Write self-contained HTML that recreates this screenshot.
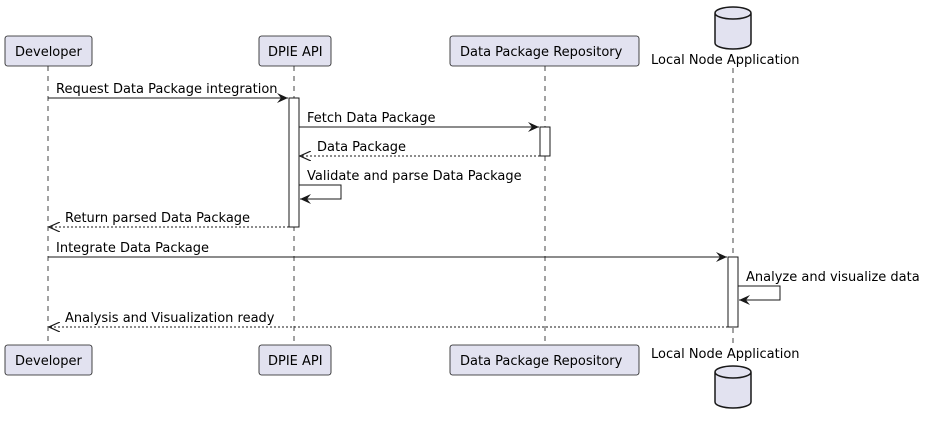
<!DOCTYPE html>
<html><head><meta charset="utf-8"><style>html,body{margin:0;padding:0;background:#fff}svg{display:block}text{font-family:"DejaVu Sans","Liberation Sans",sans-serif;font-size:13px;fill:#000}</style></head><body>
<svg width="925" height="423" viewBox="0 0 925 423" xmlns="http://www.w3.org/2000/svg">
<defs>
<marker id="a" markerWidth="12" markerHeight="10" refX="11" refY="5" orient="auto" markerUnits="userSpaceOnUse"><path d="M0,0 L11,5 L0,10 L4,5 Z" fill="#181818"/></marker>
<marker id="o" markerWidth="12" markerHeight="10" refX="11" refY="5" orient="auto" markerUnits="userSpaceOnUse"><path d="M0,0 L11,5 L0,10" fill="none" stroke="#181818" stroke-width="1.2"/></marker>
</defs>
<g stroke="#181818" stroke-width="0.8" stroke-dasharray="5,5">
<line x1="48" y1="66" x2="48" y2="345"/><line x1="294" y1="66" x2="294" y2="345"/><line x1="545" y1="66" x2="545" y2="345"/><line x1="733" y1="68" x2="733" y2="345"/>
</g>
<g fill="#E2E2F0" stroke="#181818" stroke-width="0.8">
<rect x="5" y="36" width="87" height="30" rx="2.5"/><rect x="259" y="36" width="72" height="30" rx="2.5"/><rect x="450" y="36" width="189" height="30" rx="2.5"/>
<rect x="5" y="345" width="87" height="30" rx="2.5"/><rect x="259" y="345" width="72" height="30" rx="2.5"/><rect x="450" y="345" width="189" height="30" rx="2.5"/>
</g>
<g fill="#E2E2F0" stroke="#181818" stroke-width="1.5">
<path d="M715,13 L715,43 A18,6 0 0 0 751,43 L751,13 A18,6 0 0 0 715,13 A18,6 0 0 0 751,13"/>
<path d="M715,372 L715,402 A18,6 0 0 0 751,402 L751,372 A18,6 0 0 0 715,372 A18,6 0 0 0 751,372"/>
</g>
<text x="15" y="56">Developer</text><text x="268" y="56">DPIE API</text><text x="460" y="56">Data Package Repository</text><text x="651" y="64">Local Node Application</text>
<text x="15" y="365">Developer</text><text x="268" y="365">DPIE API</text><text x="460" y="365">Data Package Repository</text><text x="651" y="358">Local Node Application</text>
<g fill="#fff" stroke="#181818" stroke-width="1">
<rect x="289" y="98" width="10" height="129"/><rect x="540" y="127" width="10" height="29"/><rect x="728" y="257" width="10" height="70"/>
</g>
<g stroke="#181818" stroke-width="1" fill="none">
<line x1="48" y1="98" x2="288" y2="98" marker-end="url(#a)"/>
<line x1="299" y1="127" x2="539" y2="127" marker-end="url(#a)"/>
<line x1="540" y1="156" x2="300" y2="156" stroke-dasharray="2,2" marker-end="url(#o)"/>
<polyline points="299,185 341,185 341,199 300,199" marker-end="url(#a)"/>
<line x1="289" y1="227" x2="49" y2="227" stroke-dasharray="2,2" marker-end="url(#o)"/>
<line x1="48" y1="257" x2="727" y2="257" marker-end="url(#a)"/>
<polyline points="738,286 780,286 780,300 739,300" marker-end="url(#a)"/>
<line x1="728" y1="327" x2="49" y2="327" stroke-dasharray="2,2" marker-end="url(#o)"/>
</g>
<text x="56" y="93">Request Data Package integration</text>
<text x="307" y="122">Fetch Data Package</text>
<text x="317" y="151">Data Package</text>
<text x="307" y="180">Validate and parse Data Package</text>
<text x="65" y="222">Return parsed Data Package</text>
<text x="56" y="252">Integrate Data Package</text>
<text x="746" y="281">Analyze and visualize data</text>
<text x="65" y="322">Analysis and Visualization ready</text>
</svg>
</body></html>
